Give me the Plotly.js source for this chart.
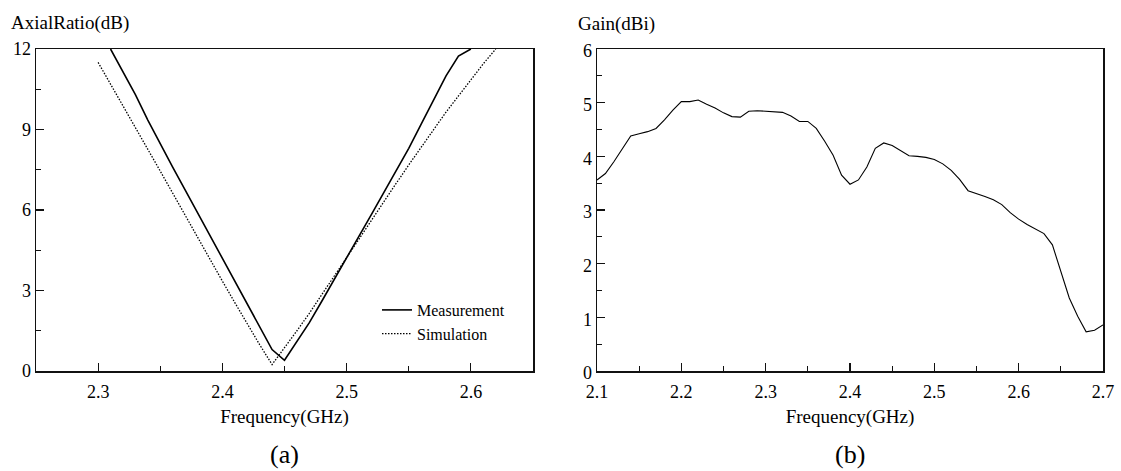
<!DOCTYPE html>
<html>
<head>
<meta charset="utf-8">
<script src="https://cdn.plot.ly/plotly-3.0.1.min.js"></script>
<style>html,body{margin:0;padding:0;background:#fff;}#chart{width:1121px;height:471px;}</style>
</head>
<body>
<div id="chart"></div>
<script>
// ---- (a) Axial ratio ----
const arMeasFreq = [2.31, 2.32, 2.33, 2.34, 2.35, 2.36, 2.37, 2.38, 2.39, 2.40, 2.41, 2.42, 2.43, 2.44, 2.45, 2.46, 2.47, 2.48, 2.49, 2.50, 2.51, 2.52, 2.53, 2.54, 2.55, 2.56, 2.57, 2.58, 2.59, 2.60];
const arMeasVal  = [12.0, 11.15, 10.3, 9.35, 8.45, 7.6, 6.75, 5.9, 5.05, 4.2, 3.35, 2.45, 1.6, 0.8, 0.4, 1.1, 1.8, 2.6, 3.4, 4.2, 5.0, 5.84, 6.66, 7.47, 8.3, 9.2, 10.1, 11.0, 11.74, 12.0];
const arSimFreq  = [2.30, 2.31, 2.32, 2.33, 2.34, 2.35, 2.36, 2.37, 2.38, 2.39, 2.40, 2.41, 2.42, 2.43, 2.44, 2.45, 2.46, 2.47, 2.48, 2.49, 2.50, 2.51, 2.52, 2.53, 2.54, 2.55, 2.56, 2.57, 2.58, 2.59, 2.60, 2.61, 2.62];
const arSimVal   = [11.5, 10.7, 9.9, 9.1, 8.27, 7.45, 6.63, 5.8, 4.97, 4.15, 3.35, 2.55, 1.75, 0.98, 0.24, 0.85, 1.5, 2.15, 2.85, 3.55, 4.25, 4.95, 5.65, 6.35, 7.0, 7.68, 8.35, 9.0, 9.65, 10.25, 10.85, 11.45, 12.0];

// ---- (b) Gain ----
const gainFreq = [2.10, 2.11, 2.12, 2.13, 2.14, 2.15, 2.16, 2.17, 2.18, 2.19, 2.20, 2.21, 2.22, 2.23, 2.24, 2.25, 2.26, 2.27, 2.28, 2.29, 2.30, 2.31, 2.32, 2.33, 2.34, 2.35, 2.36, 2.37, 2.38, 2.39, 2.40, 2.41, 2.42, 2.43, 2.44, 2.45, 2.46, 2.47, 2.48, 2.49, 2.50, 2.51, 2.52, 2.53, 2.54, 2.55, 2.56, 2.57, 2.58, 2.59, 2.60, 2.61, 2.62, 2.63, 2.64, 2.65, 2.66, 2.67, 2.68, 2.69, 2.70];
const gainVal  = [3.56, 3.68, 3.9, 4.15, 4.38, 4.42, 4.46, 4.52, 4.68, 4.86, 5.02, 5.02, 5.05, 4.97, 4.9, 4.81, 4.74, 4.73, 4.84, 4.85, 4.84, 4.84, 4.82, 4.75, 4.65, 4.65, 4.52, 4.28, 4.02, 3.65, 3.48, 3.56, 3.8, 4.15, 4.25, 4.2, 4.1, 4.01, 4.0, 3.98, 3.94, 3.86, 3.74, 3.57, 3.36, 3.31, 3.25, 3.19, 3.1, 2.95, 2.83, 2.73, 2.65, 2.56, 2.35, 1.85, 1.36, 1.02, 0.73, 0.76, 0.86];

const seriesNames = ['Measurement', 'Simulation'];
const FONT = 'Liberation Serif, Times New Roman, serif';
const W = 1121, H = 471;

const traces = [
  {x: arMeasFreq, y: arMeasVal, type: 'scatter', mode: 'lines', name: seriesNames[0],
   line: {color: '#000', width: 1.6}, xaxis: 'x', yaxis: 'y'},
  {x: arSimFreq, y: arSimVal, type: 'scatter', mode: 'lines', name: seriesNames[1],
   line: {color: '#000', width: 1.3, dash: '1.5px,1.5px'}, xaxis: 'x', yaxis: 'y'},
  {x: gainFreq, y: gainVal, type: 'scatter', mode: 'lines', showlegend: false,
   line: {color: '#000', width: 1.1}, xaxis: 'x2', yaxis: 'y2'}
];

function ax(extra) {
  return Object.assign({
    showline: true, linecolor: '#111', linewidth: 1.5, mirror: true,
    ticks: 'inside', ticklen: 8, tickwidth: 1.2, tickcolor: '#111',
    showgrid: false, zeroline: false, fixedrange: true,
    tickfont: {family: FONT, size: 18, color: '#000'}
  }, extra);
}

const yDom = [(H - 371) / H, (H - 49) / H];

const layout = {
  width: W, height: H,
  margin: {l: 0, r: 0, t: 0, b: 0, autoexpand: false},
  paper_bgcolor: '#fff', plot_bgcolor: '#fff',
  font: {family: FONT, color: '#000'},
  showlegend: true,
  legend: {x: 377 / W, y: (H - 293) / H, xanchor: 'left', yanchor: 'top',
    bgcolor: 'rgba(0,0,0,0)', borderwidth: 0, tracegroupgap: 0,
    font: {family: FONT, size: 16, color: '#000'}},
  xaxis: ax({domain: [36 / W, 533 / W], range: [2.25, 2.65], dtick: 0.1, tick0: 2.3,
    ticklabelstandoff: 4,
    minor: {dtick: 0.05, ticks: 'inside', ticklen: 5, tickwidth: 1.2, tickcolor: '#111'},
    title: {text: 'Frequency(GHz)', font: {family: FONT, size: 19}, standoff: 8},
    anchor: 'y'}),
  yaxis: ax({domain: yDom, range: [0, 12], dtick: 3, tick0: 0,
    minor: {dtick: 1.5, ticks: 'inside', ticklen: 5, tickwidth: 1.2, tickcolor: '#111'},
    anchor: 'x'}),
  xaxis2: ax({domain: [597 / W, 1103 / W], range: [2.1, 2.7], dtick: 0.1, tick0: 2.1,
    ticklabelstandoff: 4,
    minor: {dtick: 0.05, ticks: 'inside', ticklen: 5, tickwidth: 1.2, tickcolor: '#111'},
    title: {text: 'Frequency(GHz)', font: {family: FONT, size: 19}, standoff: 8},
    anchor: 'y2'}),
  yaxis2: ax({domain: yDom, range: [0, 6], dtick: 1, tick0: 0,
    ticklabelshift: 2,
    minor: {dtick: 0.5, ticks: 'inside', ticklen: 5, tickwidth: 1.2, tickcolor: '#111'},
    anchor: 'x2'}),
  annotations: [
    {text: 'AxialRatio(dB)', xref: 'paper', yref: 'paper', x: 9 / W, y: (H - 23) / H,
     xanchor: 'left', yanchor: 'middle', showarrow: false, font: {family: FONT, size: 19}},
    {text: 'Gain(dBi)', xref: 'paper', yref: 'paper', x: 576 / W, y: (H - 24) / H,
     xanchor: 'left', yanchor: 'middle', showarrow: false, font: {family: FONT, size: 19}},
    {text: '(a)', xref: 'paper', yref: 'paper', x: 284 / W, y: (H - 454) / H,
     xanchor: 'center', yanchor: 'middle', showarrow: false, font: {family: FONT, size: 26}},
    {text: '(b)', xref: 'paper', yref: 'paper', x: 850 / W, y: (H - 454) / H,
     xanchor: 'center', yanchor: 'middle', showarrow: false, font: {family: FONT, size: 26}}
  ]
};

Plotly.newPlot('chart', traces, layout, {staticPlot: true, displayModeBar: false});
</script>
</body>
</html>
